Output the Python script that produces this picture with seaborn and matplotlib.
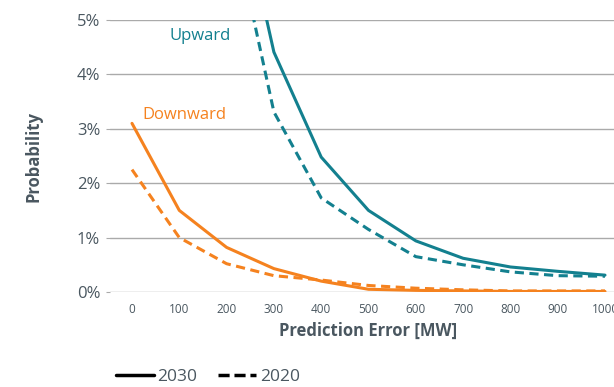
import pandas as pd
import matplotlib
matplotlib.use("Agg")
import matplotlib.pyplot as plt
import seaborn as sns
from matplotlib.lines import Line2D
from matplotlib.ticker import PercentFormatter

sns.set_style("white")
plt.rcParams["font.family"] = ["Open Sans", "DejaVu Sans"]

# Prediction error in MW, probabilities in %
error_mw = [0, 100, 200, 300, 400, 500, 600, 700, 800, 900, 1000]
up_2030 = [None, None, 8.3, 4.41, 2.48, 1.50, 0.94, 0.62, 0.46, 0.38, 0.31]
up_2020 = [None, None, 7.3, 3.31, 1.73, 1.15, 0.65, 0.50, 0.37, 0.30, 0.29]
down_2030 = [3.10, 1.50, 0.82, 0.43, 0.20, 0.05, 0.03, 0.02, 0.01, 0.01, 0.01]
down_2020 = [2.25, 1.00, 0.52, 0.30, 0.22, 0.12, 0.07, 0.04, 0.02, 0.02, 0.02]

TEAL = "#13808f"
ORANGE = "#f5821f"
TEXT = "#4a5760"

rows = []
for direction, year, vals in [("Upward", "2030", up_2030), ("Upward", "2020", up_2020),
                              ("Downward", "2030", down_2030), ("Downward", "2020", down_2020)]:
    for x, v in zip(error_mw, vals):
        if v is not None:
            rows.append({"error": x, "prob": v, "direction": direction, "year": year})
df = pd.DataFrame(rows)

fig = plt.figure(figsize=(6.14, 3.87), dpi=100)
ax = fig.add_axes([110 / 614, 1 - 292 / 387, 530 / 614, 272 / 387])

sns.lineplot(data=df, x="error", y="prob", hue="direction", style="year",
             palette={"Upward": TEAL, "Downward": ORANGE},
             dashes={"2030": "", "2020": (3, 1.8)}, linewidth=2.2,
             legend=False, ax=ax)

ax.set_xlim(-46.5, 1074)
ax.set_ylim(0, 5)
ax.set_xticks(error_mw)
ax.set_yticks([0, 1, 2, 3, 4, 5])
ax.yaxis.set_major_formatter(PercentFormatter(decimals=0))
ax.grid(axis="y", color="#aaaaaa", linewidth=1)
ax.grid(axis="x", visible=False)
for s in ax.spines.values():
    s.set_visible(False)
ax.tick_params(axis="y", length=3, color="#aaaaaa", labelsize=12, labelcolor=TEXT, pad=4, left=True)
ax.tick_params(axis="x", length=0, labelsize=8.5, labelcolor=TEXT, pad=8)

ax.set_xlabel("Prediction Error [MW]", fontsize=12, fontweight="bold", color=TEXT)
ax.xaxis.set_label_coords((368 - 110) / 530, -0.11)
ax.set_ylabel("Probability", fontsize=12, fontweight="bold", color=TEXT)
ax.yaxis.set_label_coords(-(110 - 42) / 530, 0.5)

ax.text(80, 4.7, "Upward", color=TEAL, fontsize=12, fontweight="medium", va="center")
ax.text(21, 3.25, "Downward", color=ORANGE, fontsize=12, fontweight="medium", va="center")

handles = [Line2D([], [], color="black", linewidth=2.5, label="2030"),
           Line2D([], [], color="black", linewidth=2.5, dashes=(3.2, 1.4), label="2020")]
fig.legend(handles=handles, loc="center left", bbox_to_anchor=(100 / 614, 1 - 377 / 387),
           ncol=2, frameon=False, fontsize=12.5, handlelength=2.2, handletextpad=0.2,
           columnspacing=1.2, labelcolor=TEXT)

fig.savefig("out.png", dpi=100)
